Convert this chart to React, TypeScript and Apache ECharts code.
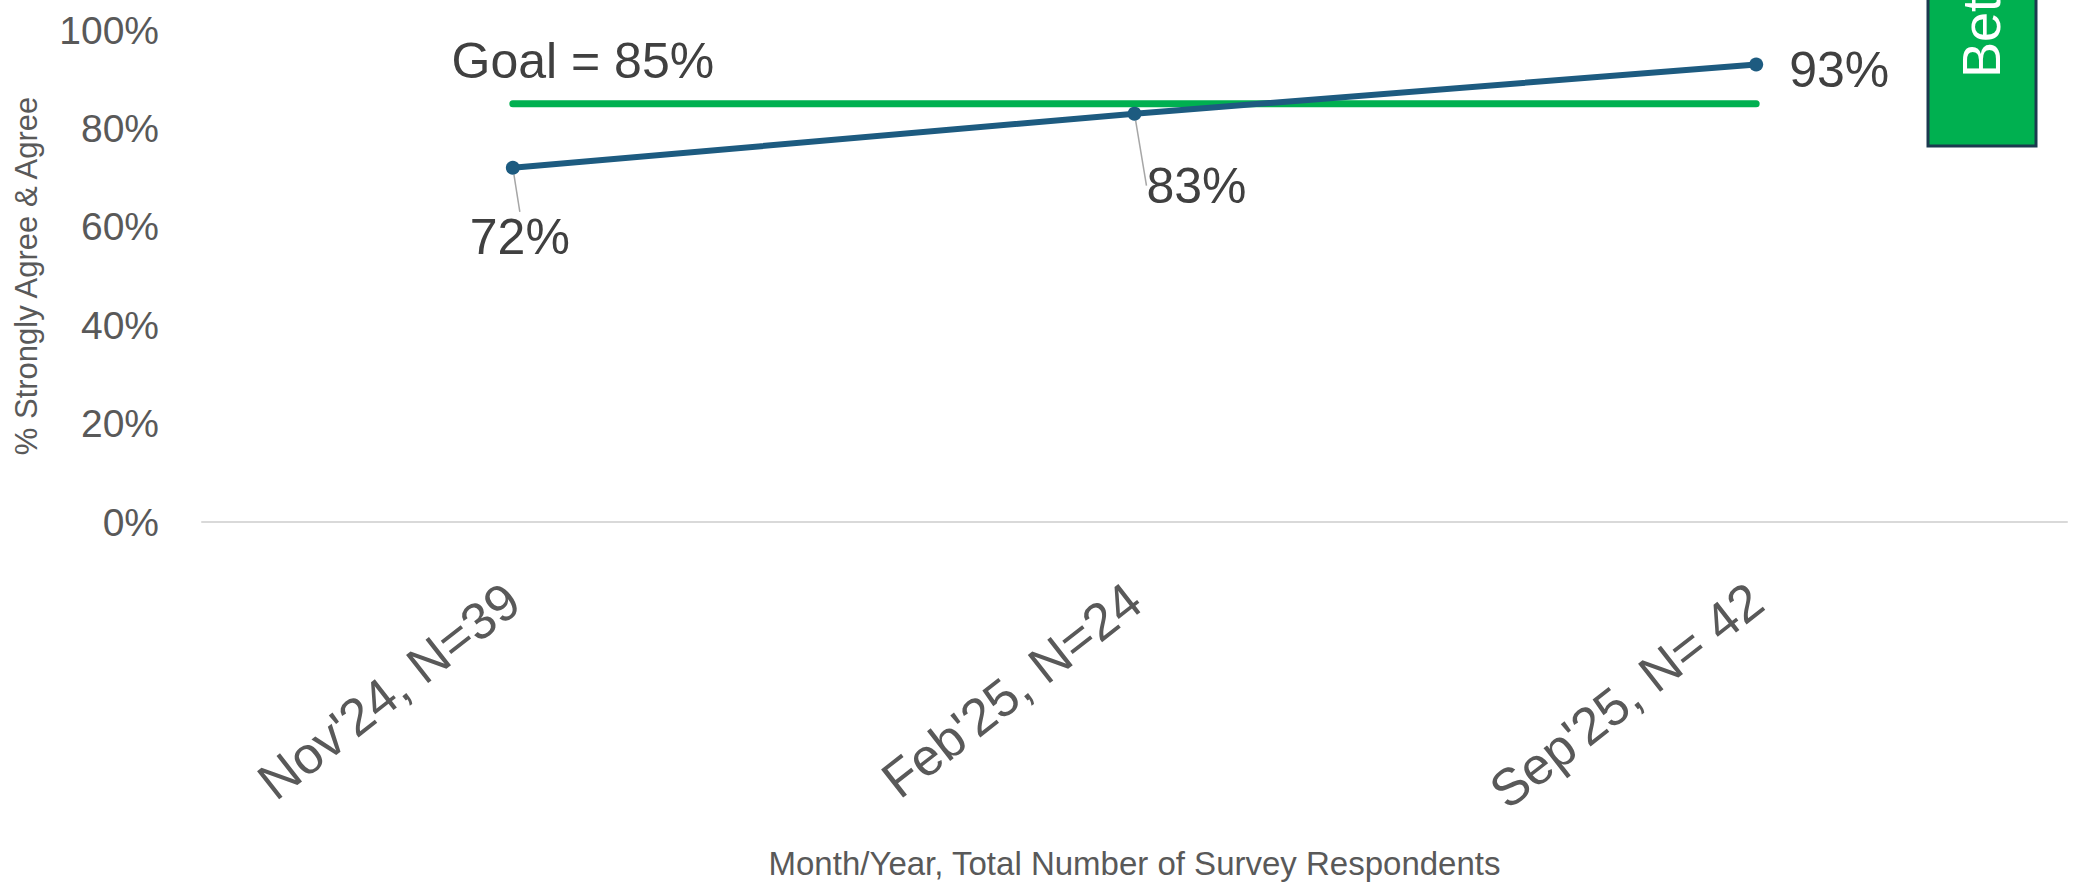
import React, { useEffect, useRef } from "react";
import * as echarts from "echarts";

const categories = ["Nov'24, N=39", "Feb'25, N=24", "Sep'25, N= 42"];
const agreeValues = [72, 83, 93];
const goalValues = [85, 85, 85];
const goalText = "Goal = 85%";
const yTicks = { min: 0, max: 100, interval: 20 };
const yTitle = "% Strongly Agree & Agree";
const xTitle = "Month/Year, Total Number of Survey Respondents";
const sideNote = "Bet";

const FONT = "'Liberation Sans', Arial, sans-serif";
const labelShift = [
  [7, 69],
  [62, 72],
  [83, 6],
];

export default function App() {
  const ref = useRef<HTMLDivElement>(null);
  useEffect(() => {
    if (!ref.current) return;
    const chart = echarts.init(ref.current, null, { renderer: "svg" });
    chart.setOption({
      animation: false,
      backgroundColor: "#ffffff",
      textStyle: { fontFamily: FONT },
      grid: { left: 202, right: 19, top: 30, bottom: 355, containLabel: false },
      xAxis: {
        type: "category",
        data: categories,
        boundaryGap: true,
        axisLine: { show: true, lineStyle: { color: "#d9d9d9", width: 2 } },
        axisTick: { show: false },
        axisLabel: {
          rotate: 38,
          margin: 72,
          fontSize: 52,
          color: "#595959",
          fontFamily: FONT,
        },
        name: xTitle,
        nameLocation: "middle",
        nameGap: 325,
        nameTextStyle: { fontSize: 33, color: "#595959", fontFamily: FONT },
      },
      yAxis: {
        type: "value",
        min: yTicks.min,
        max: yTicks.max,
        interval: yTicks.interval,
        splitLine: { show: false },
        axisLine: { show: false },
        axisTick: { show: false },
        axisLabel: {
          formatter: "{value}%",
          fontSize: 39,
          color: "#595959",
          margin: 43,
          fontFamily: FONT,
        },
        name: yTitle,
        nameLocation: "middle",
        nameRotate: 90,
        nameGap: 160,
        nameTextStyle: { fontSize: 31, color: "#595959", fontFamily: FONT },
      },
      graphic: [
        {
          type: "rect",
          shape: { x: 1928, y: -20, width: 108, height: 166 },
          style: { fill: "#00b050", stroke: "#1b3a4f", lineWidth: 3 },
          z: 10,
        },
        {
          type: "text",
          x: 1981,
          y: 78,
          rotation: Math.PI / 2,
          style: {
            text: sideNote,
            fill: "#ffffff",
            fontSize: 54,
            fontFamily: FONT,
            align: "left",
            verticalAlign: "middle",
          },
          z: 11,
        },
      ],
      series: [
        {
          name: "Goal",
          type: "line",
          data: goalValues.map((v, i) =>
            i === 0
              ? {
                  value: v,
                  label: {
                    show: true,
                    position: "top",
                    offset: [70, -12],
                    formatter: goalText,
                    fontSize: 50,
                    color: "#404040",
                    fontFamily: FONT,
                  },
                }
              : v
          ),
          symbol: "circle",
          symbolSize: 1,
          showSymbol: true,
          itemStyle: { color: "rgba(0,0,0,0)" },
          lineStyle: { color: "#00b050", width: 7, cap: "round" },
          z: 2,
        },
        {
          name: "Agree",
          type: "line",
          data: agreeValues.map((v, i) => ({
            value: v,
            labelLine: { show: i < 2 },
          })),
          symbol: "circle",
          symbolSize: 14,
          itemStyle: { color: "#1d5b80" },
          lineStyle: { color: "#1d5b80", width: 6 },
          label: {
            show: true,
            position: "inside",
            formatter: "{c}%",
            fontSize: 50,
            color: "#404040",
            fontFamily: FONT,
          },
          labelLine: {
            show: true,
            lineStyle: { color: "#a6a6a6", width: 1.5 },
          },
          labelLayout: (p: any) => ({
            dx: labelShift[p.dataIndex][0],
            dy: labelShift[p.dataIndex][1],
          }),
          z: 3,
        },
      ],
    });
    return () => chart.dispose();
  }, []);
  return (
    <div
      ref={ref}
      style={{ position: "fixed", left: 0, top: 0, width: 2086, height: 885 }}
    />
  );
}
